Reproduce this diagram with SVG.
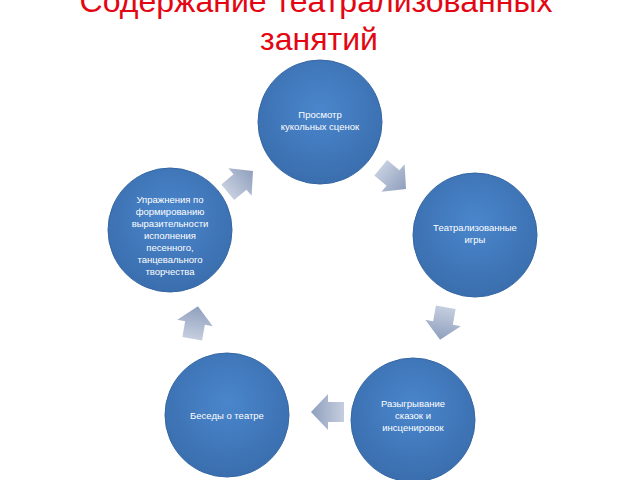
<svg xmlns="http://www.w3.org/2000/svg" width="640" height="480" viewBox="0 0 640 480">
<defs>
<radialGradient id="cg" cx="50%" cy="40%" r="60%"><stop offset="0" stop-color="#4a86cc"/><stop offset="1" stop-color="#3a6eae"/></radialGradient>
<linearGradient id="ag" x1="0" y1="0" x2="1" y2="0"><stop offset="0" stop-color="#c5cedf"/><stop offset="1" stop-color="#8f9fbd"/></linearGradient>
<path id="arr" d="M-16,-10 L0,-10 L0,-18 L17,0 L0,18 L0,10 L-16,10 Z" fill="url(#ag)"/>
</defs>
<style>
.c{fill:url(#cg);stroke:#3566a3;stroke-width:1}
.t{font-family:"Liberation Sans",Arial,sans-serif;font-size:9.5px;fill:#fff;text-anchor:middle}
.h{font-family:"Liberation Sans",Arial,sans-serif;font-size:32px;fill:#e30613;text-anchor:middle}
</style>
<rect width="640" height="480" fill="#fff"/>
<g id="title"><text class="h" x="316" y="12">Содержание театрализованных</text><text class="h" x="319" y="50">занятий</text></g>
<g id="connectors">
<use href="#arr" transform="translate(240,182) rotate(-40)"/>
<use href="#arr" transform="translate(393,178) rotate(40)"/>
<use href="#arr" transform="translate(443,323) rotate(100)"/>
<use href="#arr" transform="translate(328,412) rotate(180)"/>
<use href="#arr" transform="translate(195,323) rotate(-80)"/>
</g>
<g id="n1"><circle class="c" cx="320" cy="122" r="62"/><text class="t" x="320" y="118">Просмотр</text><text class="t" x="320" y="130">кукольных сценок</text></g>
<g id="n2"><circle class="c" cx="475" cy="235" r="62"/><text class="t" x="475" y="231">Театрализованные</text><text class="t" x="475" y="243">игры</text></g>
<g id="n3"><circle class="c" cx="413" cy="420" r="62"/><text class="t" x="413" y="407">Разыгрывание</text><text class="t" x="413" y="419">сказок и</text><text class="t" x="413" y="431">инсценировок</text></g>
<g id="n4"><circle class="c" cx="227" cy="415" r="62"/><text class="t" x="227" y="419">Беседы о театре</text></g>
<g id="n5"><circle class="c" cx="170" cy="230" r="62"/>
<text class="t" x="170" y="203">Упражнения по</text><text class="t" x="170" y="215">формированию</text><text class="t" x="170" y="227">выразительности</text><text class="t" x="170" y="239">исполнения</text><text class="t" x="170" y="251">песенного,</text><text class="t" x="170" y="263">танцевального</text><text class="t" x="170" y="275">творчества</text></g>
</svg>
